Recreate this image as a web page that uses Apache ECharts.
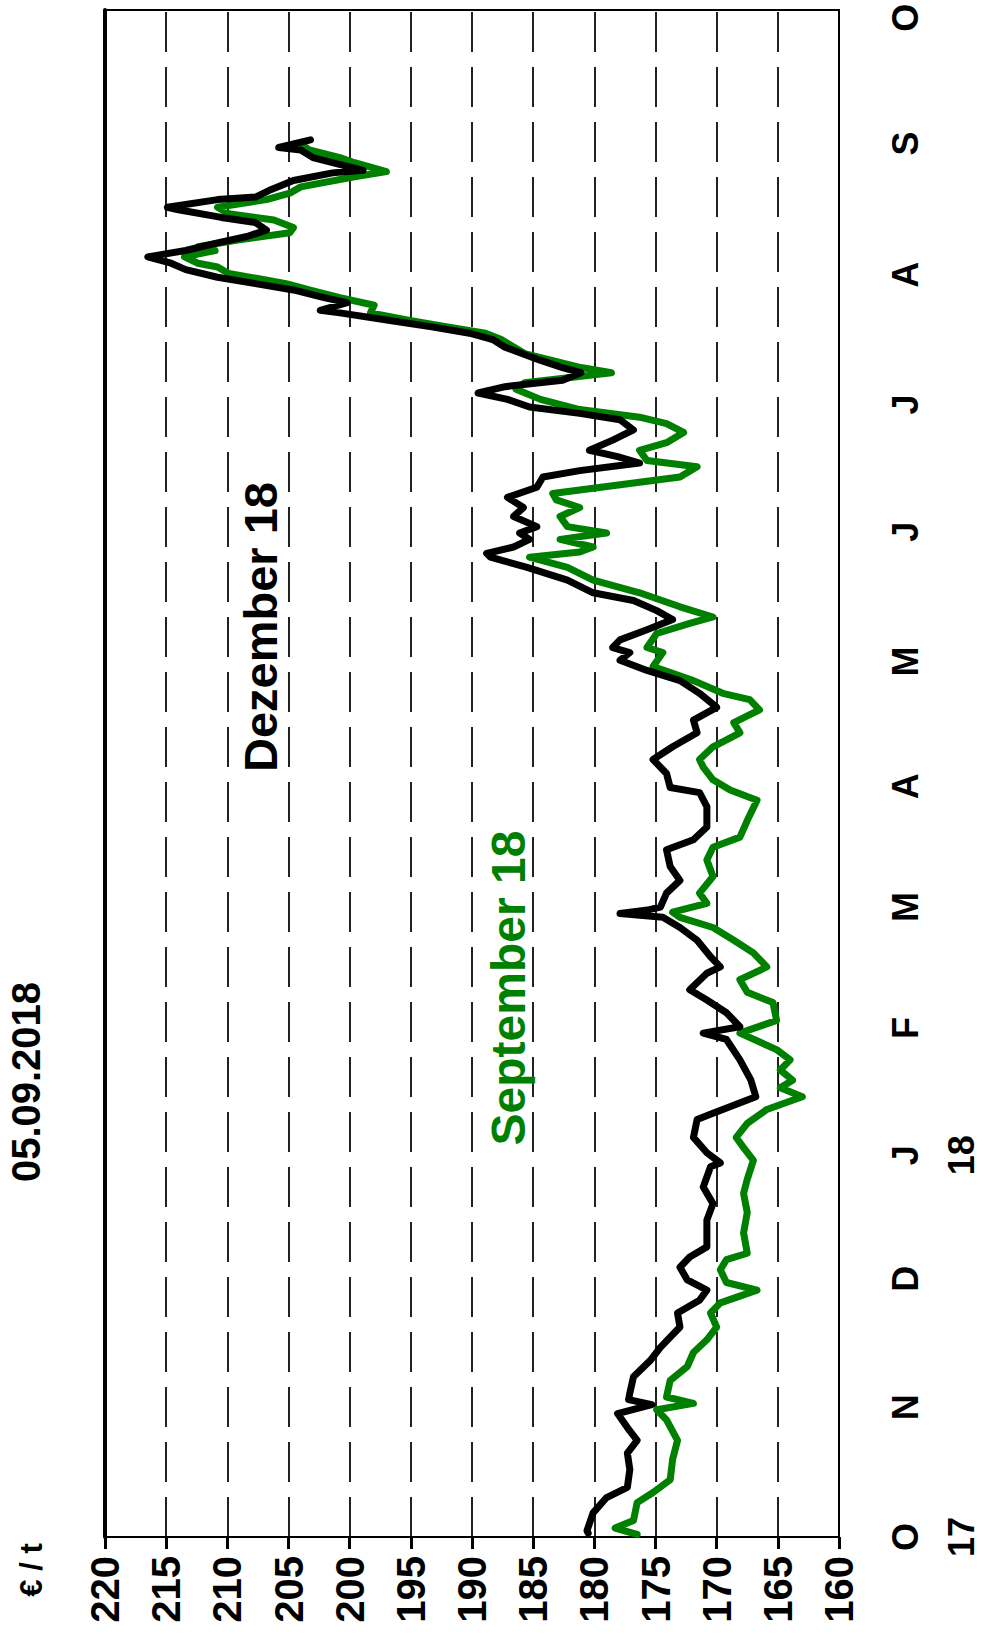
<!DOCTYPE html>
<html>
<head>
<meta charset="utf-8">
<script src="https://cdn.jsdelivr.net/npm/echarts@6/dist/echarts.min.js"></script>
<style>
html,body{margin:0;padding:0;background:#fff;overflow:hidden;width:989px;height:1635px;}
#chart{position:absolute;left:0;top:0;width:1635px;height:989px;transform-origin:0 0;transform:rotate(-90deg) translate(-1635px,0);}
</style>
</head>
<body>
<div id="chart"></div>
<script>
// Month axis (time in months since 1 Oct 2017) and its labels
const monthLabels = ['O','N','D','J','F','M','A','M','J','J','A','S','O'];
const monthPositions = [0, 1.02, 2.03, 3.0, 4.0, 4.95, 5.9, 6.88, 7.9, 8.9, 9.92, 10.95, 11.94];
const yearLabels = {0: '17', 3: '18'};
const valueMin = 160, valueMax = 220, valueStep = 5;
const title = '05.09.2018';
const unitLabel = '€ / t';

// Dezember 18 contract (€/t), [month position, price]
const dezember18 = [[0.03,180.5],[0.05,180.6],[0.19,180.1],[0.31,179.0],[0.39,177.3],[0.53,177.1],[0.66,177.3],[0.76,176.5],[0.86,177.3],[0.97,178.1],[1.04,175.3],[1.08,177.2],[1.13,177.1],[1.26,176.8],[1.39,175.4],[1.49,174.6],[1.65,173.0],[1.76,173.2],[1.86,171.4],[1.94,170.8],[2.02,172.4],[2.12,173.0],[2.20,172.2],[2.28,170.8],[2.49,170.8],[2.62,170.3],[2.75,171.1],[2.91,170.5],[2.94,169.7],[3.02,170.8],[3.14,171.9],[3.28,171.6],[3.33,170.3],[3.46,166.8],[3.59,167.2],[3.75,168.1],[3.91,169.2],[3.96,171.1],[4.01,168.1],[4.12,169.2],[4.22,170.8],[4.30,172.2],[4.43,170.8],[4.48,169.7],[4.56,170.5],[4.69,171.6],[4.79,173.0],[4.87,174.4],[4.90,177.9],[4.93,175.5],[4.95,174.6],[5.06,174.1],[5.16,173.0],[5.27,173.8],[5.40,174.1],[5.48,171.9],[5.58,170.8],[5.74,170.8],[5.85,171.4],[5.89,173.8],[6.00,174.1],[6.11,175.2],[6.21,173.6],[6.32,171.6],[6.42,171.9],[6.52,170.0],[6.63,171.4],[6.73,173.0],[6.81,175.7],[6.89,177.9],[6.95,177.1],[6.99,178.5],[7.05,177.9],[7.13,175.7],[7.21,173.6],[7.28,174.9],[7.36,176.8],[7.42,180.1],[7.52,182.2],[7.62,185.5],[7.70,188.5],[7.73,188.8],[7.78,186.6],[7.84,185.3],[7.89,186.1],[7.94,184.7],[8.02,186.6],[8.09,185.8],[8.17,187.1],[8.25,184.7],[8.33,184.2],[8.38,181.2],[8.44,176.3],[8.49,178.1],[8.54,180.4],[8.62,178.5],[8.70,176.8],[8.78,177.9],[8.83,181.2],[8.88,185.3],[8.94,187.1],[8.99,189.5],[9.04,187.3],[9.09,182.6],[9.15,181.1],[9.19,182.6],[9.25,184.5],[9.35,187.3],[9.41,188.3],[9.46,190.2],[9.51,193.3],[9.56,196.7],[9.62,200.8],[9.64,202.4],[9.70,200.2],[9.74,202.1],[9.80,204.6],[9.85,207.7],[9.90,210.8],[9.96,213.4],[10.01,214.6],[10.06,216.5],[10.11,213.4],[10.17,210.8],[10.22,208.4],[10.27,206.8],[10.33,207.7],[10.37,210.5],[10.43,214.0],[10.45,214.9],[10.51,210.8],[10.53,207.7],[10.59,206.4],[10.66,204.6],[10.72,201.4],[10.74,198.9],[10.80,201.4],[10.84,203.0],[10.90,204.0],[10.92,205.8],[10.98,203.2]];

// September 18 contract (€/t), [month position, price]
const september18 = [[0.02,176.5],[0.07,178.3],[0.13,176.8],[0.27,176.5],[0.35,175.2],[0.45,173.8],[0.61,173.6],[0.76,173.2],[0.92,174.1],[1.00,174.9],[1.05,171.9],[1.10,174.1],[1.23,173.8],[1.34,172.4],[1.45,171.9],[1.55,170.8],[1.65,170.0],[1.76,170.5],[1.84,169.7],[1.94,166.7],[2.00,169.2],[2.10,169.7],[2.18,169.2],[2.23,167.5],[2.39,167.8],[2.55,167.5],[2.70,167.8],[2.81,167.5],[2.96,167.0],[3.06,167.8],[3.14,168.4],[3.25,167.5],[3.36,165.9],[3.46,163.0],[3.53,164.8],[3.59,163.8],[3.67,164.8],[3.75,164.0],[3.83,165.1],[3.96,168.1],[4.06,165.1],[4.20,165.4],[4.28,167.5],[4.38,168.1],[4.48,165.9],[4.59,167.0],[4.69,168.6],[4.79,170.3],[4.87,173.0],[4.91,173.6],[4.98,170.8],[5.06,171.4],[5.19,170.3],[5.32,170.8],[5.42,170.3],[5.50,168.1],[5.63,167.5],[5.79,166.7],[5.87,168.9],[5.95,170.3],[6.05,171.1],[6.11,171.4],[6.21,170.3],[6.32,168.1],[6.40,168.6],[6.50,166.5],[6.58,167.3],[6.63,169.5],[6.73,171.9],[6.84,175.2],[6.95,174.4],[6.99,175.7],[7.10,174.9],[7.18,172.2],[7.23,170.3],[7.31,173.0],[7.42,176.3],[7.52,180.1],[7.62,182.2],[7.70,185.3],[7.74,181.2],[7.78,180.1],[7.84,182.8],[7.89,179.0],[7.94,182.2],[8.02,182.8],[8.09,181.2],[8.15,183.1],[8.20,183.4],[8.33,173.0],[8.41,171.6],[8.46,175.7],[8.54,176.3],[8.60,174.1],[8.68,172.7],[8.75,174.1],[8.80,176.3],[8.86,181.2],[8.94,184.4],[9.02,186.4],[9.07,185.7],[9.15,178.6],[9.19,181.1],[9.30,185.7],[9.41,187.6],[9.46,188.9],[9.51,192.0],[9.56,195.1],[9.62,198.3],[9.68,198.0],[9.74,200.8],[9.80,203.3],[9.85,205.2],[9.93,209.9],[9.98,210.8],[10.01,212.4],[10.06,213.5],[10.11,211.0],[10.14,212.4],[10.19,209.3],[10.25,204.9],[10.29,204.6],[10.35,206.2],[10.40,209.9],[10.45,210.8],[10.51,206.8],[10.56,204.9],[10.61,204.0],[10.69,199.6],[10.73,197.0],[10.80,199.6],[10.84,200.8],[10.90,203.3],[10.95,204.0]];

const FONT = '"Liberation Sans", Arial, sans-serif';
const GREEN = '#008000';

const chart = echarts.init(document.getElementById('chart'), null, {renderer: 'svg', width: 1635, height: 989});

function monthFormatter(v) {
  const i = monthPositions.findIndex(p => Math.abs(p - v) < 1e-6);
  if (i < 0) return '';
  return monthLabels[i] + (yearLabels[i] ? '\n' + yearLabels[i] : '');
}

chart.setOption({
  animation: false,
  backgroundColor: '#ffffff',
  grid: {left: 98, right: 10, top: 105, bottom: 150, containLabel: false, outerBoundsMode: 'none',
         show: true, borderColor: '#000', borderWidth: 2, backgroundColor: 'transparent'},
  xAxis: [{
    type: 'value', min: 0, max: 12, position: 'bottom',
    axisLine: {show: true, lineStyle: {color: '#000', width: 2}},
    axisTick: {show: false},
    splitLine: {show: false},
    axisLabel: {
      customValues: monthPositions,
      formatter: monthFormatter,
      margin: 38, color: '#000', fontFamily: FONT, fontWeight: 'bold', fontSize: 36, lineHeight: 56,
      showMinLabel: true, showMaxLabel: true
    }
  }, {
    type: 'value', min: 0, max: 12, position: 'top',
    axisLine: {show: true, lineStyle: {color: '#000', width: 4}},
    axisTick: {show: false}, axisLabel: {show: false}, splitLine: {show: false}
  }],
  yAxis: {
    type: 'value', min: valueMin, max: valueMax, interval: valueStep,
    axisLine: {show: true, lineStyle: {color: '#000', width: 2}},
    axisTick: {show: true, length: 12, lineStyle: {color: '#000', width: 3}},
    axisLabel: {margin: 19, color: '#000', fontFamily: FONT, fontWeight: 'bold', fontSize: 40},
    splitLine: {show: true, lineStyle: {color: '#222', width: 2, type: [40, 15]}}
  },
  series: [
    {name: 'September 18', type: 'line', data: september18, showSymbol: false, z: 2,
     lineStyle: {color: GREEN, width: 7, join: 'round', cap: 'round'}, itemStyle: {color: GREEN}},
    {name: 'Dezember 18', type: 'line', data: dezember18, showSymbol: false, z: 3,
     lineStyle: {color: '#000', width: 7, join: 'round', cap: 'round'}, itemStyle: {color: '#000'}}
  ],
  graphic: [
    {type: 'text', x: 553, y: 26, style: {text: title, font: 'bold 40px ' + FONT, fill: '#000', align: 'center', verticalAlign: 'middle'}},
    {type: 'text', x: 65, y: 31, style: {text: unitLabel, font: 'bold 31px ' + FONT, fill: '#000', align: 'center', verticalAlign: 'middle'}},
    {type: 'text', x: 1008, y: 260, z: 10, style: {text: 'Dezember 18', font: 'bold 47px ' + FONT, fill: '#000', align: 'center', verticalAlign: 'middle'}},
    {type: 'text', x: 647, y: 508, z: 10, style: {text: 'September 18', font: 'bold 48px ' + FONT, fill: GREEN, align: 'center', verticalAlign: 'middle'}}
  ]
});
</script>
</body>
</html>
